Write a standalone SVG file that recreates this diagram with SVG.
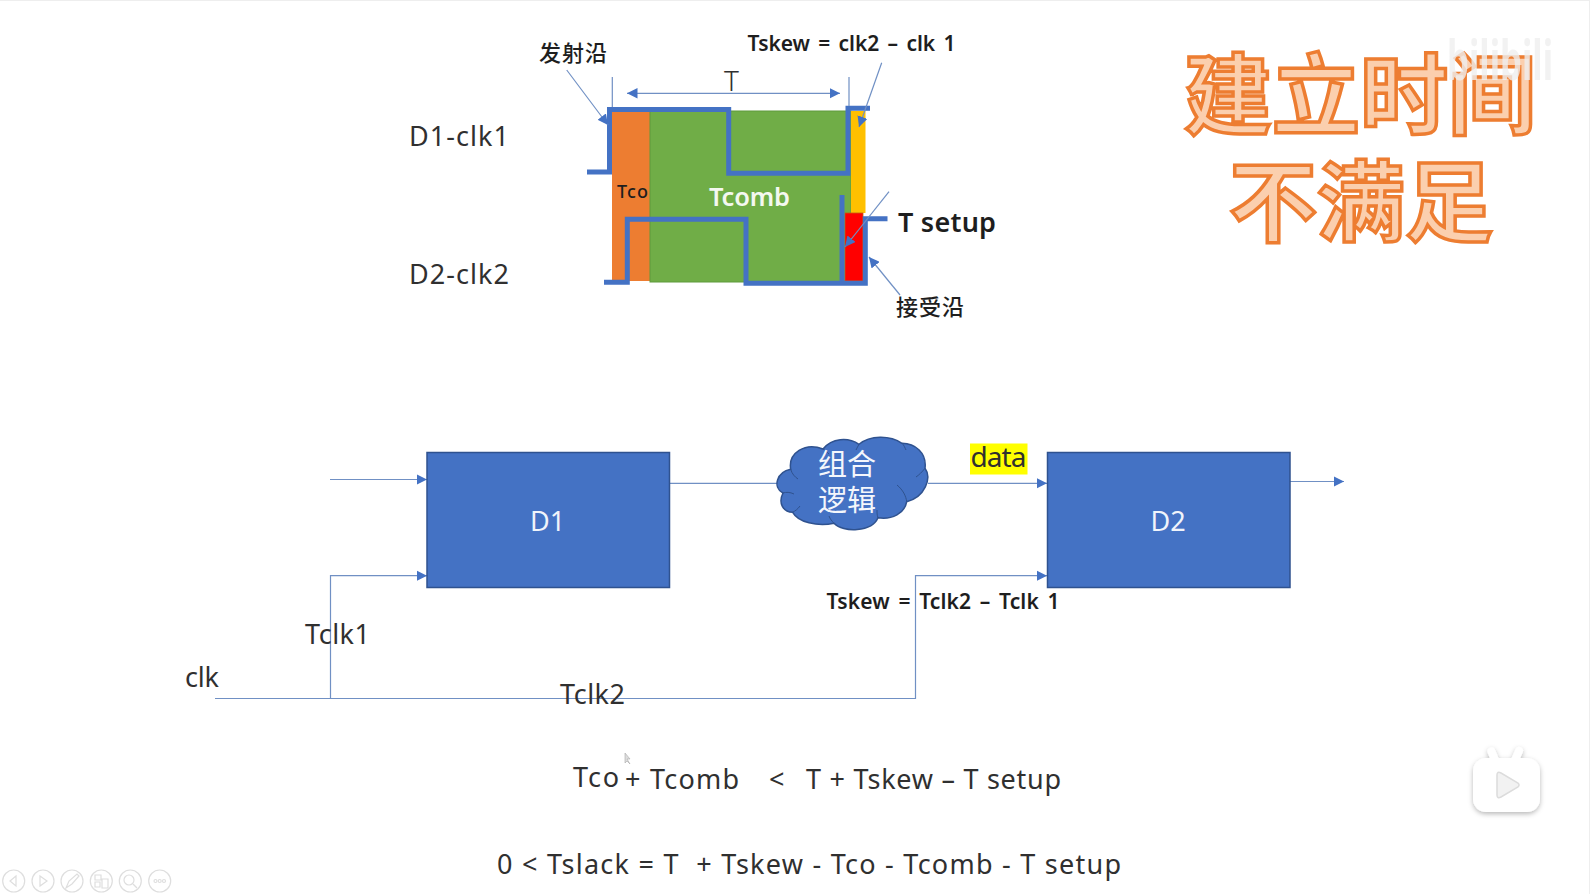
<svg xmlns="http://www.w3.org/2000/svg" width="1590" height="894" viewBox="0 0 1590 894">
<style>
text{font-family:"Noto Sans","Noto Sans CJK SC",sans-serif;fill:#303030}
.cjk{font-family:"Noto Sans CJK SC",sans-serif}
.w{fill:#fff}
.b{font-weight:600;fill:#1e1e1e}
.n{font-size:27px}
.m{font-size:28px}
.conn{fill:none;stroke:#7090c4;stroke-width:1.2}
.wave{fill:none;stroke:#4472c4;stroke-width:5}
.block{fill:#4472c4;stroke:#2f528f;stroke-width:1.5}
.title{font-size:88px;fill:#fbcfae;stroke:#ed7d31;stroke-width:3.5px;font-weight:700;text-anchor:middle;font-family:"Noto Sans CJK SC",sans-serif}
.nav{fill:none;stroke:#dedede;stroke-width:1.2}
</style>
<defs>
<marker id="a" viewBox="0 0 10 10" refX="10" refY="5" markerWidth="10.500" markerHeight="10.500" markerUnits="userSpaceOnUse" orient="auto-start-reverse"><path d="M0 0L10 5L0 10Z" fill="#4472c4"/></marker>
<filter id="sh" x="-20%" y="-20%" width="140%" height="140%"><feDropShadow dx="0" dy="2" stdDeviation="2.5" flood-color="#000" flood-opacity=".28"/></filter>
</defs>
<rect width="1590" height="894" fill="#fff"/>
<path d="M0 .5H1590" stroke="#eee"/>
<path d="M1589.500 0V894" stroke="#eee"/>

<g id="timing-bars">
<rect x="612" y="111" width="38" height="170" fill="#ed7d31"/>
<rect x="650" y="111" width="201" height="171" fill="#70ad47" stroke="#5f9a3c"/>
<rect x="851" y="111" width="14.500" height="102" fill="#ffc000"/>
<rect x="845" y="213" width="18" height="68" fill="#f00" stroke="#c55a11" stroke-width=".8"/>
<text x="617" y="198" style="font-size:18px;font-weight:500;fill:#1e1e1e" textLength="31">Tco</text>
<text x="709" y="206" style="font-size:25.500px;font-weight:600;fill:#f4f8f0" textLength="81">Tcomb</text>
</g>

<g id="timing-waves">
<path class="wave" d="M587 172H609.500V109.500H728.700V173.300H848V108.300H870"/>
<path class="wave" d="M604 282.300H627.300V219.300H746V283.300H865.300V218.700H887.500"/>
<path class="wave" d="M842 195V283"/>
</g>

<g id="connectors">
<path class="conn" d="M612.300 77V107M849 77V106"/>
<path class="conn" d="M627 93.300H840" marker-start="url(#a)" marker-end="url(#a)"/>
<path class="conn" d="M566.700 70L608 125" marker-end="url(#a)"/>
<path class="conn" d="M881.700 62.700L859 127" marker-end="url(#a)"/>
<path class="conn" d="M889 191.700L845 247" marker-end="url(#a)"/>
<path class="conn" d="M900 295L869 257" marker-end="url(#a)"/>
<path class="conn" d="M330 479.500H427" marker-end="url(#a)"/>
<path class="conn" d="M669 483.300H777"/>
<path class="conn" d="M928 483.300H1047" marker-end="url(#a)"/>
<path class="conn" d="M1290 481.500H1344" marker-end="url(#a)"/>
<path class="conn" d="M215 698.500H915.500V575.700H1047" marker-end="url(#a)"/>
<path class="conn" d="M330.500 698.500V575.700H427" marker-end="url(#a)"/>
</g>

<g id="labels-top">
<text class="cjk" x="539" y="61" style="font-size:22px;font-weight:500;fill:#1e1e1e" textLength="68">发射沿</text>
<text class="cjk" x="896" y="315" style="font-size:22px;font-weight:500;fill:#1e1e1e" textLength="68">接受沿</text>
<text class="b" x="747.500" y="51" style="font-size:21px;word-spacing:3px" textLength="208">Tskew = clk2 – clk 1</text>
<text x="409" y="146" class="n" textLength="100">D1-clk1</text>
<text x="409" y="284" class="n" textLength="100">D2-clk2</text>
<text x="724" y="91" class="m" style="font-weight:300">T</text>
<text class="b" x="898" y="232" style="font-size:27px" textLength="98">T setup</text>
</g>

<g id="D1"><rect class="block" x="427" y="452.500" width="242.500" height="135"/><text x="547.500" y="531" text-anchor="middle" style="fill:#f0f4fb;font-size:27px">D1</text></g>
<g id="D2"><rect class="block" x="1047.500" y="452.500" width="242.500" height="135"/><text x="1168" y="531" text-anchor="middle" style="fill:#f0f4fb;font-size:27px">D2</text></g>

<g id="logic-cloud">
<path fill="#4472c4" stroke="#2f528f" stroke-width="1.500" d="M783 493C772 487 777 472 790.700 469.300C788 453 805 442 823 449C832 438 848 437 859 444.300C870 435 890 435 902 443.300C915 443.300 927 453 925 468.300C932 478 925 497 906.700 501.700C905 513 892 520 878 517.700C872 532 843 533 834 523.300C817 527 798 522 792.700 512.300C783 512 778 503 783 493Z"/>
<path fill="none" stroke="#2f528f" d="M790.700 469.300C792 474 795 477 798 479M783 493C786 492 790 492 794 494M792.700 512.300C795 511 798 509 800 506M834 523.300C832 521 830 519 829 516M878 517.700C877 515 877 513 877 510M906.700 501.700C906 496 903 490 897 485M925 468.300C922 472 919 475 916 477M902 443.300C904 445 905 448 906 450M859 444.300C858 446 857 448 856 450M823 449C825 450 827 452 829 454"/>
<text class="cjk" x="847" y="475" text-anchor="middle" style="fill:#f4f7fc;font-size:29px">组合</text>
<text class="cjk" x="847" y="511" text-anchor="middle" style="fill:#f4f7fc;font-size:29px">逻辑</text>
</g>

<g id="labels-bottom">
<rect x="970" y="443.500" width="57.500" height="31" fill="#ff0"/>
<text x="970.500" y="467" class="m" textLength="56">data</text>
<text class="b" x="826.500" y="609" style="font-size:21px;word-spacing:3px" textLength="233">Tskew = Tclk2 – Tclk 1</text>
<text x="305" y="644" class="n" textLength="65">Tclk1</text>
<text x="185" y="687" class="n" textLength="34">clk</text>
<text x="560" y="704" class="n" textLength="65">Tclk2</text>
</g>

<g id="formulas">
<text x="573" y="787" class="n" textLength="46">Tco</text>
<text x="625" y="789" class="n" textLength="114">+ Tcomb</text>
<text x="769" y="789" class="n">&lt;</text>
<text x="806" y="789" class="n" textLength="255">T + Tskew – T setup</text>
<text x="497" y="874" class="n" textLength="624" xml:space="preserve">0 &lt; Tslack = T  + Tskew - Tco - Tcomb - T setup</text>
</g>

<g id="title">
<text class="title" x="1360" y="127">建立时间</text>
<text class="title" x="1361" y="234">不满足</text>
</g>

<g id="watermark" opacity=".8">
<text transform="translate(1447 80) scale(.62 1)" style="font-size:56px;font-weight:700;fill:#efefef">bilibili</text>
</g>

<g id="player-icon">
<g filter="url(#sh)">
<path d="M1495 760L1491.500 751.500M1515 760L1519 751" stroke="#fff" stroke-width="8" stroke-linecap="round"/>
<rect x="1473" y="758" width="67" height="54" rx="13" fill="#fff"/>
</g>
<path d="M1497 775Q1497 771 1501 773L1518 783Q1520 785 1518 787L1501 797Q1497 799 1497 795Z" fill="#f2f2f2" stroke="#dcdcdc" stroke-width="1.500"/>
</g>

<g id="slide-controls">
<circle class="nav" cx="13.700" cy="881" r="11"/><path class="nav" d="M16 876L10 881L16 886Z"/>
<circle class="nav" cx="43" cy="881" r="11"/><path class="nav" d="M40 876L47 881L40 886Z"/>
<circle class="nav" cx="72" cy="881" r="11"/><path class="nav" d="M66 888L69 881L77 874L79 876L72 884Z"/>
<circle class="nav" cx="101.300" cy="881" r="11"/><path class="nav" d="M95 875H101V880H95ZM95 882H100V887H95ZM102 879H108V888H102Z"/>
<circle class="nav" cx="130.300" cy="881" r="11"/><circle class="nav" cx="129" cy="880" r="5"/><path class="nav" d="M133 884L137 888"/>
<circle class="nav" cx="159.700" cy="881" r="11"/><circle class="nav" cx="155.500" cy="881" r="1.500"/><circle class="nav" cx="159.700" cy="881" r="1.500"/><circle class="nav" cx="164" cy="881" r="1.500"/>
</g>

<path id="cursor" d="M625 753V763L627 761L630 764L627 759H630Z" fill="#ddd" stroke="#aaa" stroke-width=".6"/>
</svg>
